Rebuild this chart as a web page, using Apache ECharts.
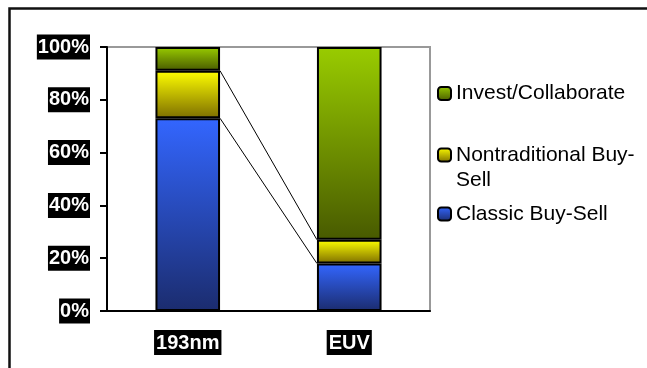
<!DOCTYPE html>
<html>
<head>
<meta charset="utf-8">
<script src="https://cdn.jsdelivr.net/npm/echarts@6/dist/echarts.min.js"></script>
<style>
  html, body { margin: 0; padding: 0; background: #fff; overflow: hidden; }
  #chart { width: 647px; height: 368px; overflow: hidden; }
</style>
</head>
<body>
<div id="chart"></div>
<script>
// data (percent of each bar)
const categories = ['193nm', 'EUV']
const classicBuySell = [73, 18]
const nontraditional = [18, 9]
const investCollaborate = [9, 73]
const yTicks = [0, 20, 40, 60, 80, 100]

const FONT = '"Liberation Sans", Arial, Helvetica, sans-serif'

function grad(top, bottom) {
  return new echarts.graphic.LinearGradient(0, 0, 0, 1, [
    { offset: 0, color: top },
    { offset: 1, color: bottom }
  ])
}

const colors = {
  classic: grad('#3366ff', '#1b2c6e'),
  nontrad: grad('#ffff00', '#7d6e00'),
  invest: grad('#99cc00', '#485a00')
}

// tops of the lower two segments, used for the series lines between bars
const classicTop = classicBuySell.slice()
const nontradTop = classicBuySell.map((v, i) => v + nontraditional[i])
const seriesLines = [
  [0, classicTop[0], classicTop[1]],
  [0, nontradTop[0], nontradTop[1]]
]

const chart = echarts.init(document.getElementById('chart'))

const legendBase = {
  orient: 'vertical',
  left: 437,
  padding: 0,
  itemWidth: 13,
  itemHeight: 13,
  selectedMode: false,
  itemStyle: { borderColor: '#000', borderWidth: 2 },
  textStyle: { fontFamily: FONT, fontSize: 21, color: '#000', lineHeight: 25 }
}

const barStyle = c => ({ color: c, borderColor: '#000', borderWidth: 2 })

chart.setOption({
  animation: false,
  graphic: [{
    // frame: only the top and left edges fall inside the picture
    type: 'polyline',
    shape: { points: [[9.5, 368], [9.5, 8.5], [647, 8.5]] },
    style: { fill: null, stroke: '#111', lineWidth: 2.5 },
    silent: true
  }],
  grid: {
    left: 107,
    right: 217,
    top: 47,
    bottom: 57,
    show: true,
    borderColor: '#999',
    borderWidth: 2
  },
  legend: [
    Object.assign({}, legendBase, { top: 81, data: ['Invest/Collaborate'] }),
    Object.assign({}, legendBase, {
      top: 117.5,
      data: ['Nontraditional Buy-Sell'],
      // blank first line so the first text line sits beside the icon
      formatter: () => '\nNontraditional Buy-\nSell'
    }),
    Object.assign({}, legendBase, { top: 201.5, data: ['Classic Buy-Sell'] })
  ],
  xAxis: {
    type: 'category',
    data: categories,
    axisLine: { lineStyle: { color: '#000', width: 2 } },
    axisTick: { length: 7, lineStyle: { color: '#000', width: 2 } },
    axisLabel: {
      margin: 19,
      fontFamily: FONT,
      fontSize: 20,
      fontWeight: 'bold',
      color: '#fff',
      backgroundColor: '#000',
      padding: [2, 2, 1, 2],
      lineHeight: 22
    }
  },
  yAxis: {
    type: 'value',
    min: yTicks[0],
    max: yTicks[yTicks.length - 1],
    interval: yTicks[1] - yTicks[0],
    splitLine: { show: false },
    axisLine: { show: true, lineStyle: { color: '#000', width: 2 } },
    axisTick: { show: true, length: 7, lineStyle: { color: '#000', width: 2 } },
    axisLabel: {
      margin: 17,
      formatter: '{value}%',
      fontFamily: FONT,
      fontSize: 20,
      fontWeight: 'bold',
      color: '#fff',
      backgroundColor: '#000',
      padding: [2, 1, 1, 1],
      lineHeight: 22
    }
  },
  series: [
    {
      name: 'Classic Buy-Sell',
      type: 'bar',
      stack: 'total',
      barWidth: '40%',
      data: classicBuySell,
      itemStyle: barStyle(colors.classic)
    },
    {
      name: 'Nontraditional Buy-Sell',
      type: 'bar',
      stack: 'total',
      data: nontraditional,
      itemStyle: barStyle(colors.nontrad)
    },
    {
      name: 'Invest/Collaborate',
      type: 'bar',
      stack: 'total',
      data: investCollaborate,
      itemStyle: barStyle(colors.invest)
    },
    {
      // series lines joining segment tops of the two bars
      type: 'custom',
      silent: true,
      encode: { x: 0, y: 1 },
      data: seriesLines,
      renderItem(params, api) {
        const p1 = api.coord([0, api.value(1)])
        const p2 = api.coord([1, api.value(2)])
        const half = api.size([1, 0])[0] * 0.4 / 2
        return {
          type: 'line',
          shape: { x1: p1[0] + half, y1: p1[1], x2: p2[0] - half, y2: p2[1] },
          style: { stroke: '#000', lineWidth: 1 }
        }
      }
    }
  ]
})
</script>
</body>
</html>
